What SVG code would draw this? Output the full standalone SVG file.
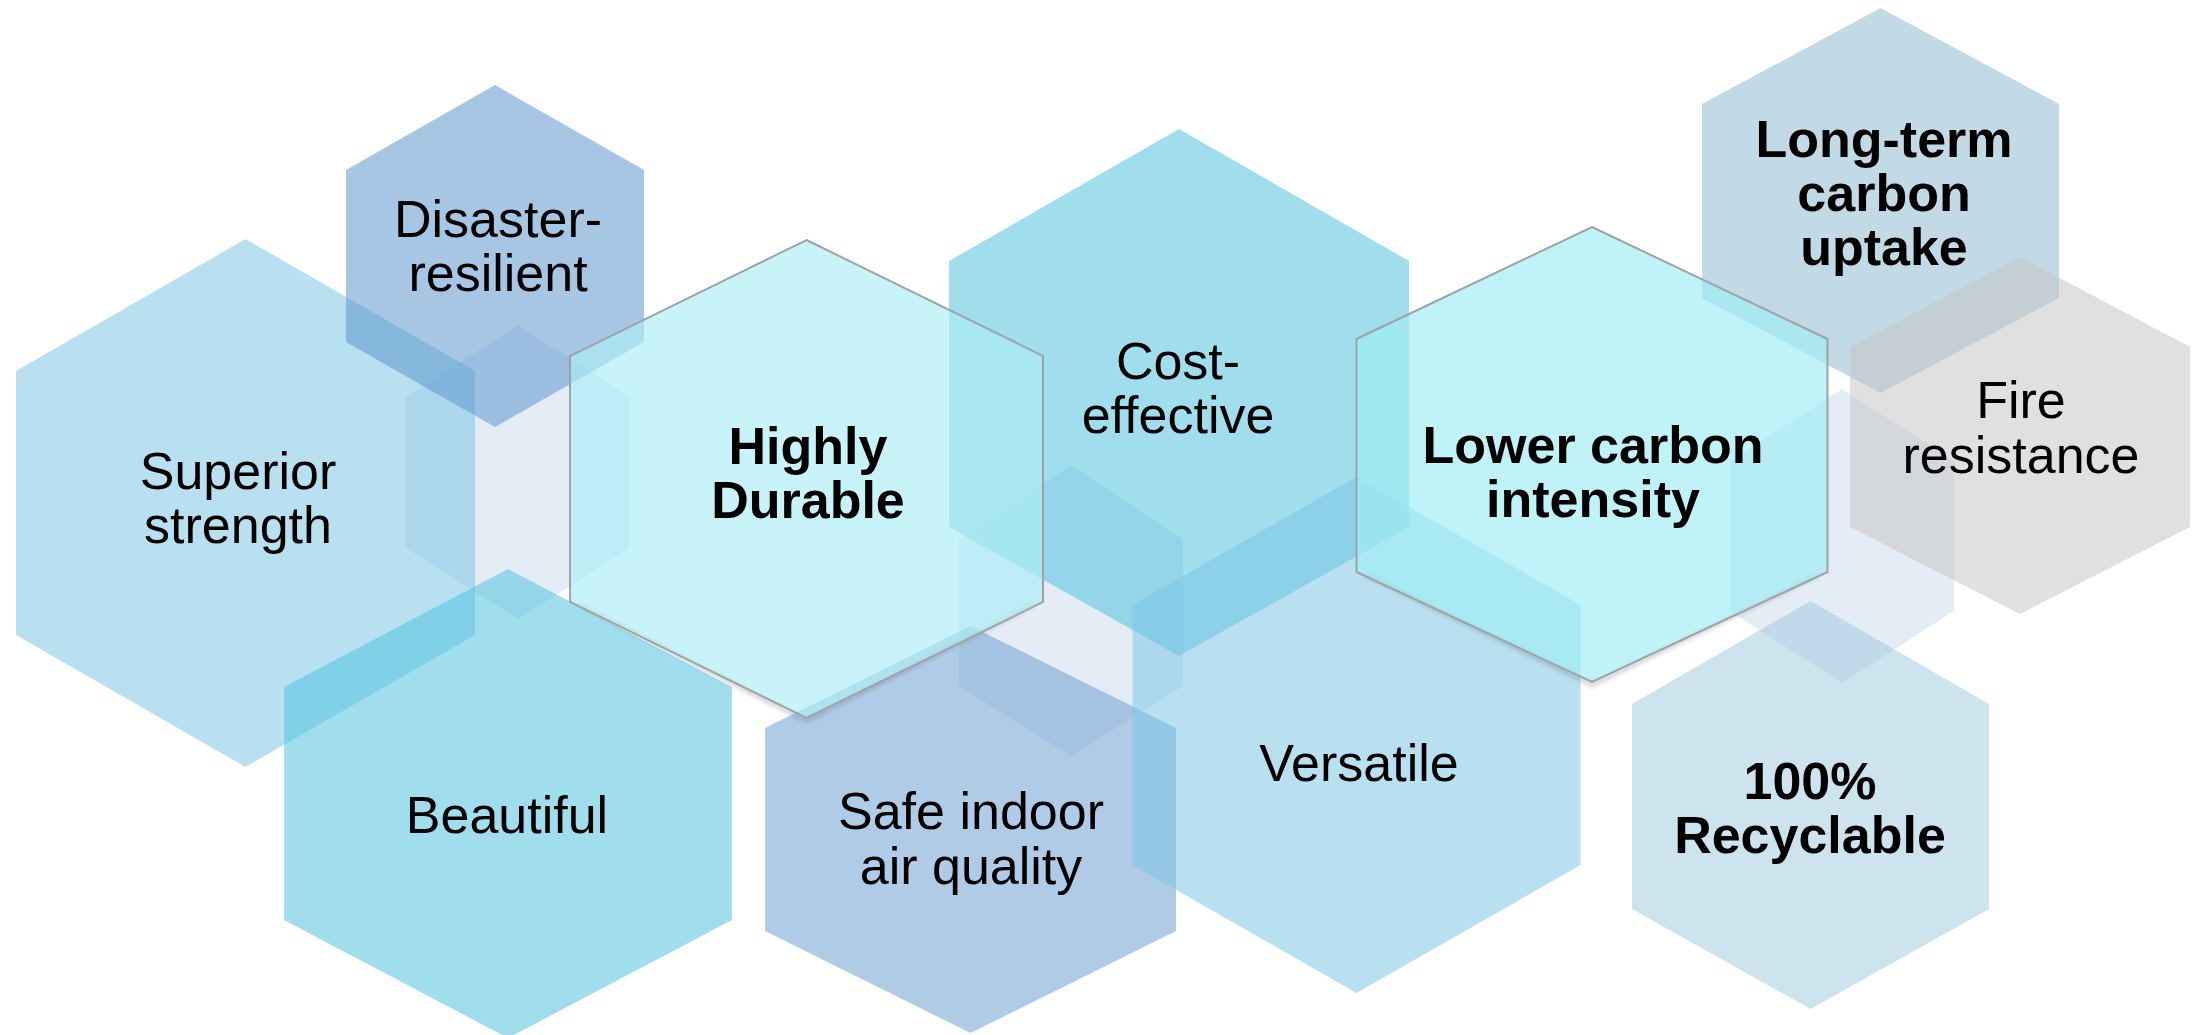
<svg xmlns="http://www.w3.org/2000/svg" width="2196" height="1035" viewBox="0 0 2196 1035">
<defs>
<style>
.hex{stroke:none;fill-opacity:0.55}
.faint{fill:#e4ecf5}
.glass{fill-opacity:0.68;stroke:#9ea3a6;stroke-width:2}
.t{font-family:"Liberation Sans",Arial,Helvetica,sans-serif;font-size:52px;text-anchor:middle;fill:#000}
.b{font-weight:bold}
.hl{stroke:#ffffff;stroke-width:5;stroke-opacity:0.75;fill:none}
.sh{stroke:#6b7278;stroke-width:3;stroke-opacity:0.45;fill:none}
</style>
<filter id="blur" x="-10%" y="-10%" width="120%" height="120%"><feGaussianBlur stdDeviation="2"/></filter>
</defs>
<rect width="2196" height="1035" fill="#ffffff"/>
<g id="background">
<path class="faint" d="M518,325 L630,397 L630,548 L518,619 L406,548 L406,397 Z"/>
<path class="faint" d="M1071,465 L1183,539 L1183,686 L1071,756 L959,686 L959,539 Z"/>
<path class="faint" d="M1842,389 L1954,461 L1954,611 L1842,683 L1730,611 L1730,461 Z"/>
</g>
<g id="connectors"></g>
<g id="superior-strength">
<path class="hex" fill="#7ec7e6" d="M245.5,239 L475,371 L475,635 L245.5,767 L16,635 L16,371 Z"/>
<text class="t" x="238" y="489">Superior</text>
<text class="t" x="238" y="543">strength</text>
</g>
<g id="disaster-resilient">
<path class="hex" fill="#5d97ce" d="M495,85 L644,170 L644,342 L495,427 L346,342 L346,170 Z"/>
<text class="t" x="498" y="237">Disaster-</text>
<text class="t" x="498" y="291">resilient</text>
</g>
<g id="beautiful">
<path class="hex" fill="#52c3de" d="M508,569 L732,687 L732,920 L508,1038 L284,920 L284,687 Z"/>
<text class="t" x="507" y="833">Beautiful</text>
</g>
<g id="safe-indoor-air-quality">
<path class="hex" fill="#6fa1d2" d="M970.5,626 L1176,728 L1176,931 L970.5,1033 L765,931 L765,728 Z"/>
<text class="t" x="971" y="829">Safe indoor</text>
<text class="t" x="971" y="884">air quality</text>
</g>
<g id="cost-effective">
<path class="hex" fill="#52c3de" d="M1179,129 L1409,261 L1409,527 L1179,656 L949,527 L949,261 Z"/>
<text class="t" x="1178" y="379">Cost-</text>
<text class="t" x="1178" y="433">effective</text>
</g>
<g id="versatile">
<path class="hex" fill="#7ec7e6" d="M1356.5,477 L1580.5,605 L1580.5,865 L1356.5,993 L1132.5,865 L1132.5,605 Z"/>
<text class="t" x="1359" y="781">Versatile</text>
</g>
<g id="long-term-carbon-uptake">
<path class="hex" fill="#90bcd2" d="M1880.5,8 L2059,104 L2059,298 L1880.5,393 L1702,298 L1702,104 Z"/>
<text class="t b" x="1884" y="157">Long-term</text>
<text class="t b" x="1884" y="211">carbon</text>
<text class="t b" x="1884" y="265">uptake</text>
</g>
<g id="fire-resistance">
<path class="hex" fill="#c7c7c7" d="M2020,257 L2190,347 L2190,527 L2020,614 L1850,527 L1850,347 Z"/>
<text class="t" x="2021" y="418">Fire</text>
<text class="t" x="2021" y="473">resistance</text>
</g>
<g id="recyclable">
<path class="hex" fill="#a4cce0" d="M1810.5,601 L1989,704 L1989,909 L1810.5,1009 L1632,909 L1632,704 Z"/>
<text class="t b" x="1810" y="799">100%</text>
<text class="t b" x="1810" y="853">Recyclable</text>
</g>
<g id="highly-durable">
<path class="sh" filter="url(#blur)" d="M580,605 L806.5,721 L1033,605"/>
<path class="glass" fill="#aeedf5" d="M806.5,240 L1043,356 L1043,602 L806.5,718 L570,602 L570,356 Z"/>
<path class="hl" filter="url(#blur)" d="M1032,366 L1032,592"/>
<path d="M577,362 L577,596" stroke="#8a9296" stroke-width="3" stroke-opacity="0.25" fill="none" filter="url(#blur)"/>
<text class="t b" x="808" y="464">Highly</text>
<text class="t b" x="808" y="518">Durable</text>
</g>
<g id="lower-carbon-intensity">
<path class="sh" filter="url(#blur)" d="M1366,575 L1592,685 L1818,575"/>
<path class="glass" fill="#a1edf5" d="M1592,227 L1827.5,339 L1827.5,572 L1592,682 L1356.5,572 L1356.5,339 Z"/>
<path class="hl" filter="url(#blur)" d="M1817,349 L1817,562"/>
<path d="M1363,345 L1363,566" stroke="#8a9296" stroke-width="3" stroke-opacity="0.25" fill="none" filter="url(#blur)"/>
<text class="t b" x="1593" y="463">Lower carbon</text>
<text class="t b" x="1593" y="517">intensity</text>
</g>
</svg>
